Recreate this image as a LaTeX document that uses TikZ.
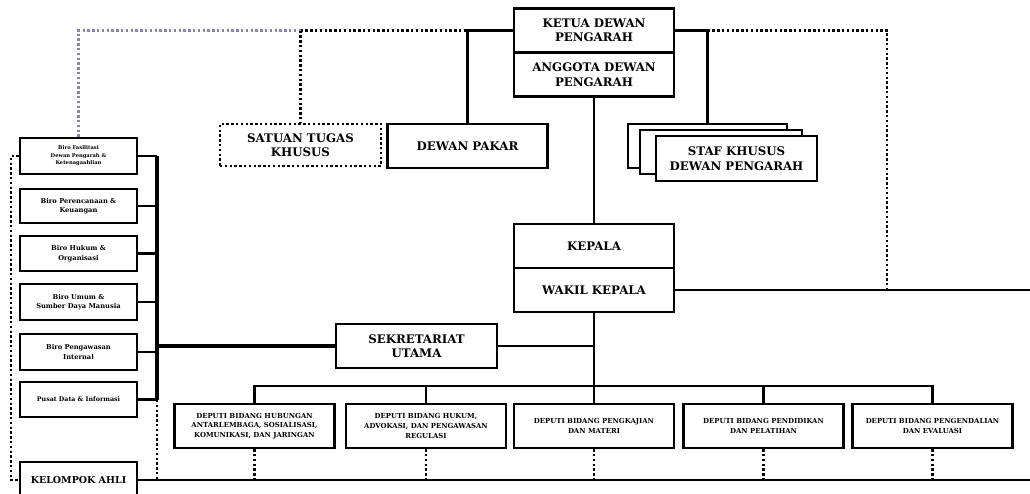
\documentclass[tikz,border=0pt]{standalone}
\usepackage{fontspec}
\setmainfont{DejaVu Serif}
\definecolor{purpledot}{RGB}{140,130,175}
\begin{document}
\begin{tikzpicture}[x=1pt,y=-1pt,
  box/.style={draw, line width=2.5pt, fill=white, align=center, inner sep=0pt, font=\bfseries\fontsize{11.8}{14.5}\selectfont},
  dotbox/.style={box, dash pattern=on 2.4pt off 2.4pt},
  depbox/.style={box, minimum width=160pt, minimum height=44pt, font=\bfseries\fontsize{6.9}{9.6}\selectfont},
  birobox/.style={box, minimum width=117pt, minimum height=35pt, font=\bfseries\fontsize{6.7}{9.5}\selectfont},
  conn/.style={line width=2.6pt},
  thick conn/.style={line width=3.6pt},
  dots/.style={line width=2.8pt, dash pattern=on 2.4pt off 2.4pt},
  pdots/.style={line width=2.8pt, dash pattern=on 2.4pt off 2.4pt, draw=purpledot}
]
\useasboundingbox (0,0) rectangle (1030,493);
\clip (0,0) rectangle (1030,493);

% top boxes
\node[box, minimum width=160pt, minimum height=44pt] (ketua) at (594,30.5) {KETUA DEWAN\\PENGARAH};
\node[box, minimum width=160pt, minimum height=44pt] (anggota) at (594,74.5) {ANGGOTA DEWAN\\PENGARAH};
\node[dotbox, minimum width=161pt, minimum height=42pt] (satgas) at (300.5,145) {SATUAN TUGAS\\KHUSUS};
\node[box, minimum width=160pt, minimum height=44pt] (pakar) at (467.5,146) {DEWAN PAKAR};
\node[box, minimum width=159pt, minimum height=44pt] (staf1) at (707.5,146) {};
\node[box, minimum width=162pt, minimum height=44pt] (staf2) at (721,152) {};
\node[box, minimum width=161pt, minimum height=45pt] (staf3) at (736.5,158.5) {STAF KHUSUS\\DEWAN PENGARAH};

\node[box, minimum width=160pt, minimum height=44pt] (kepala) at (594,246) {KEPALA};
\node[box, minimum width=160pt, minimum height=44pt] (wakil) at (594,290) {WAKIL KEPALA};
\node[box, minimum width=161pt, minimum height=44pt] (sekut) at (416.5,346) {SEKRETARIAT\\UTAMA};

% deputi
\node[depbox] (dep1) at (254.5,426) {DEPUTI BIDANG HUBUNGAN\\ANTARLEMBAGA, SOSIALISASI,\\KOMUNIKASI, DAN JARINGAN};
\node[depbox] (dep2) at (426,426) {DEPUTI BIDANG HUKUM,\\ADVOKASI, DAN PENGAWASAN\\REGULASI};
\node[depbox] (dep3) at (594,426) {DEPUTI BIDANG PENGKAJIAN\\DAN MATERI};
\node[depbox] (dep4) at (763.5,426) {DEPUTI BIDANG PENDIDIKAN\\DAN PELATIHAN};
\node[depbox] (dep5) at (932.5,426) {DEPUTI BIDANG PENGENDALIAN\\DAN EVALUASI};

% biro
\node[birobox, minimum height=36pt, font=\bfseries\fontsize{5.2}{7.5}\selectfont] (biro1) at (78.5,156) {Biro Fasilitasi\\Dewan Pengarah \&\\Ketenagaahlian};
\node[birobox, minimum height=34pt] (biro2) at (78.5,206) {Biro Perencanaan \&\\Keuangan};
\node[birobox] (biro3) at (78.5,253.5) {Biro Hukum \&\\Organisasi};
\node[birobox, minimum height=36pt] (biro4) at (78.5,302) {Biro Umum \&\\Sumber Daya Manusia};
\node[birobox, minimum height=36pt] (biro5) at (78.5,352) {Biro Pengawasan\\Internal};
\node[birobox, font=\bfseries\fontsize{6.3}{9.5}\selectfont] (biro6) at (78.5,399.5) {Pusat Data \& Informasi};
\node[box, minimum width=117pt, minimum height=36pt, font=\bfseries\fontsize{9.5}{13}\selectfont] (kelompok) at (78.5,480) {KELOMPOK AHLI};

% coordinates
\coordinate (tsat) at (satgas.north |- ketua.west);
\coordinate (tpak) at (pakar.north |- ketua.west);
\coordinate (tstaf) at (staf1.north |- ketua.east);
\coordinate (tright) at (887,30.5);
\coordinate (wright) at (887,290);
\coordinate (wend) at (1030,290);
\coordinate (spinetop) at (157,156);
\coordinate (spinemid) at (157,400);
\coordinate (spinebot) at (157,480);
\coordinate (bend) at (1030,480);
\coordinate (lefttop) at (11,156);
\coordinate (leftbot) at (11,480);
\coordinate (dline) at (0,386);

% top connectors
\draw[pdots] (biro1.north) |- (tsat);
\draw[dots] (tsat) -- (tpak);
\draw[dots] (tsat) -- (satgas.north);
\draw[conn] (ketua.west) -- (tpak) -- (pakar.north);
\draw[conn] (ketua.east) -- (tstaf) -- (staf1.north);
\draw[dots] (tstaf) -- (tright) -- (wright);
\draw[conn] (anggota.south) -- (kepala.north);
\draw[conn] (wakil.east) -- (wend);

% wakil to deputi
\draw[conn] (wakil.south) -- (dep3.north);
\draw[conn] (sekut.east) -- (sekut.east -| wakil.south);
\draw[conn] (dep1.north) -- (dep1.north |- dline) -| (dep5.north);
\draw[conn] (dep2.north) -- (dep2.north |- dline);
\draw[conn] (dep4.north) -- (dep4.north |- dline);

% sekretariat to biro spine
\draw[thick conn] (sekut.west) -- (sekut.west -| spinetop);
\draw[thick conn] (spinetop) -- (spinemid);
\foreach \b in {biro1,biro2,biro3,biro4,biro5,biro6}
  \draw[conn] (\b.east) -- (\b.east -| spinetop);
\draw[dots] (spinemid) -- (spinebot);

% bottom line
\draw[conn] (kelompok.east) -- (bend);
\foreach \d in {dep1,dep2,dep3,dep4,dep5}
  \draw[dots] (\d.south) -- (\d.south |- bend);

% left dotted
\draw[dots] (biro1.west) -- (lefttop) -- (leftbot) -- (kelompok.west);
\end{tikzpicture}
\end{document}
